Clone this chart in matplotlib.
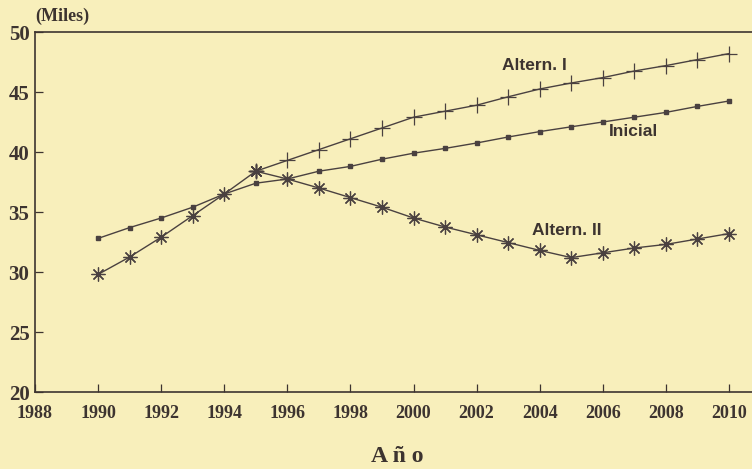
import matplotlib.pyplot as plt

years = list(range(1990, 2011))

# valores en miles
inicial = [32.8, 33.7, 34.5, 35.4, 36.5, 37.4, 37.75, 38.4, 38.8, 39.4, 39.9,
           40.3, 40.75, 41.25, 41.7, 42.1, 42.5, 42.9, 43.3, 43.8, 44.25]
comun = [29.8, 31.25, 32.9, 34.7, 36.5, 38.4]  # tramo compartido 1990-1995
altern1 = [38.4, 39.3, 40.2, 41.1, 42.0, 42.9, 43.4, 43.9, 44.6, 45.25,
           45.75, 46.2, 46.75, 47.2, 47.7, 48.2]
altern2 = [38.4, 37.75, 37.0, 36.2, 35.4, 34.5, 33.75, 33.1, 32.45, 31.8,
           31.2, 31.6, 32.0, 32.3, 32.75, 33.2]

xticks = list(range(1988, 2011, 2))
yticks = list(range(20, 51, 5))

bg = '#f8efbb'
ink = '#3d3430'
line = '#4a4140'

fig = plt.figure(figsize=(7.52, 4.69), dpi=100, facecolor=bg)
ax = fig.add_axes([35/752, 1 - 392/469, 1 - 35/752, 360/469])
ax.set_facecolor(bg)

star = (8, 2, 0)
ax.plot(years, inicial, color=line, lw=1.0, marker='s', ms=3.5,
        mfc=line, mec=line)
ax.plot(years[:6], comun, color=line, lw=1.0, marker=star, ms=10,
        mew=0.9, mec=line)
ax.plot(years[5:], altern1, color=line, lw=1.0, marker='+', ms=11,
        mew=0.9, mec=line)
ax.plot(years[5:], altern2, color=line, lw=1.0, marker=star, ms=10,
        mew=0.9, mec=line)
# el punto de 1995 pertenece al tramo con asteriscos
ax.plot(years[5], comun[-1], color=line, marker=star, ms=10, mew=0.9)

ax.set_xlim(1988, 2010.73)
ax.set_ylim(20, 50)
ax.set_xticks(xticks)
ax.set_yticks(yticks)
ax.tick_params(direction='in', length=6, width=0.9, color=ink)
ax.tick_params(axis='x', pad=9)
ax.tick_params(axis='y', pad=4)
for lab in ax.get_xticklabels():
    lab.set_fontfamily('Liberation Serif')
    lab.set_fontweight('bold')
    lab.set_fontsize(13)
    lab.set_color(ink)
for lab in ax.get_yticklabels():
    lab.set_fontfamily('Liberation Serif')
    lab.set_fontweight('bold')
    lab.set_fontsize(15)
    lab.set_color(ink)

ax.spines['right'].set_visible(False)
for side in ['left', 'bottom', 'top']:
    ax.spines[side].set_color(ink)
    ax.spines[side].set_linewidth(1.2)

lab_kw = dict(family='Liberation Sans', weight='bold', fontsize=12.5,
              color=ink, ha='left', va='center')
ax.text(2002.8, 47.25, 'Altern. I', **lab_kw)
ax.text(2006.2, 41.67, 'Inicial', **lab_kw)
ax.text(2003.75, 33.5, 'Altern. II', **lab_kw)

fig.text(35/752, 1 - 16/469, '(Miles)', family='Liberation Serif',
         weight='bold', fontsize=13, color=ink, ha='left', va='center')
fig.text(397/752, 1 - 456/469, 'A ñ o', family='Liberation Serif',
         weight='bold', fontsize=17, color=ink, ha='center', va='center')

fig.savefig('out.png', dpi=100, facecolor=bg)
